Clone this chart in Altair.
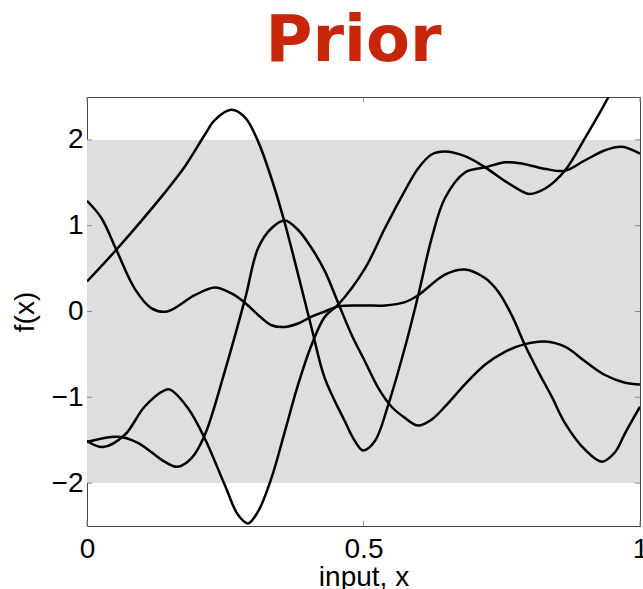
import altair as alt
import pandas as pd

# Four sample functions drawn from the GP prior (x in [0, 1])
a_x = [0.0, 0.053, 0.14, 0.177, 0.213, 0.231, 0.261, 0.286, 0.3095, 0.3336, 0.3577, 0.3818,
       0.406, 0.4301, 0.4663, 0.4844, 0.4995, 0.5206, 0.5446, 0.5749, 0.599, 0.6231, 0.6472,
       0.6834, 0.72, 0.757, 0.79, 0.83, 0.864, 0.90, 0.937, 0.967, 1.0]
a_y = [0.35, 0.72, 1.38, 1.69, 2.06, 2.23, 2.35, 2.26, 1.98, 1.55, 1.03, 0.43,
       -0.19, -0.78, -1.28, -1.51, -1.62, -1.51, -1.09, -0.42, 0.19, 0.85, 1.32,
       1.62, 1.68, 1.74, 1.72, 1.66, 1.64, 1.76, 1.88, 1.92, 1.84]

b_x = [0.0, 0.026, 0.053, 0.086, 0.116, 0.145, 0.1949, 0.231, 0.2613, 0.2859, 0.3095,
       0.3336, 0.3577, 0.3818, 0.406, 0.4301, 0.4542, 0.5025, 0.5387, 0.5749, 0.599, 0.6472,
       0.6834, 0.7196, 0.7437, 0.7678, 0.7919, 0.816, 0.8402, 0.8643, 0.9005, 0.931, 0.9548,
       0.9729, 1.0]
b_y = [1.29, 1.09, 0.72, 0.27, 0.04, 0.0, 0.19, 0.28, 0.21, 0.10, -0.04,
       -0.16, -0.18, -0.14, -0.06, 0.0, 0.06, 0.07, 0.07, 0.11, 0.19, 0.43,
       0.49, 0.39, 0.23, -0.04, -0.39, -0.70, -0.99, -1.30, -1.61, -1.75, -1.64,
       -1.42, -1.11]

c_x = [0.0, 0.029, 0.068, 0.104, 0.14, 0.15, 0.183, 0.213, 0.249, 0.273, 0.291, 0.3095,
       0.3336, 0.3577, 0.3818, 0.406, 0.4301, 0.4542, 0.5025, 0.5387, 0.5749, 0.599, 0.6231,
       0.6472, 0.6834, 0.72, 0.756, 0.79, 0.80, 0.83, 0.864, 0.9005, 0.943, 0.96]
c_y = [-1.51, -1.58, -1.44, -1.11, -0.92, -0.91, -1.13, -1.48, -2.02, -2.37, -2.47, -2.33,
       -1.94, -1.40, -0.85, -0.39, -0.06, 0.08, 0.50, 0.97, 1.41, 1.67, 1.83,
       1.865, 1.81, 1.68, 1.52, 1.39, 1.37, 1.44, 1.64, 2.02, 2.5, 2.72]

d_x = [0.0, 0.056, 0.092, 0.14, 0.164, 0.189, 0.213, 0.249, 0.2859, 0.3095, 0.3336, 0.3577,
       0.3818, 0.406, 0.4301, 0.4542, 0.4784, 0.5025, 0.5266, 0.5508, 0.5749, 0.599, 0.6231,
       0.6472, 0.6834, 0.7196, 0.7558, 0.7919, 0.8281, 0.8643, 0.9005, 0.9367, 0.9729, 1.0]
d_y = [-1.52, -1.46, -1.53, -1.75, -1.81, -1.71, -1.44, -0.70, 0.15, 0.74, 0.97, 1.06,
       0.95, 0.74, 0.47, 0.10, -0.27, -0.58, -0.89, -1.11, -1.24, -1.33, -1.26,
       -1.11, -0.85, -0.62, -0.47, -0.38, -0.35, -0.41, -0.58, -0.74, -0.83, -0.85]

# +/- two standard deviations of the prior
band_lo, band_hi = -2, 2

x_ticks = [0, 0.5, 1]
y_ticks = [-2, -1, 0, 1, 2]

samples = pd.concat([
    pd.DataFrame({"x": xs, "y": ys, "sample": name})
    for name, xs, ys in [("a", a_x, a_y), ("b", b_x, b_y), ("c", c_x, c_y), ("d", d_x, d_y)]
])
band = pd.DataFrame({"x": [0], "x2": [1], "y": [band_lo], "y2": [band_hi]})
xt = pd.DataFrame({"x": x_ticks})
yt = pd.DataFrame({"y": y_ticks})

W, H = 553, 429
TICK = 5

x_scale = alt.Scale(domain=[0, 1], nice=False, zero=False)
y_scale = alt.Scale(domain=[-2.5, 2.5], nice=False, zero=False)

x_axis = alt.Axis(values=x_ticks, format="~g", title="input, x", ticks=False, domain=False,
                  grid=False, labelPadding=9, titlePadding=0, labelFlush=False)
y_axis = alt.Axis(values=y_ticks, format="~g", title="f(x)", ticks=False, domain=False,
                  grid=False, labelPadding=4, titlePadding=12)


def X(field="x"):
    return alt.X(f"{field}:Q", scale=x_scale, axis=x_axis, title="input, x")


def Y(field="y"):
    return alt.Y(f"{field}:Q", scale=y_scale, axis=y_axis, title="f(x)")


band_layer = alt.Chart(band).mark_rect(color="#dedede").encode(
    x=X(), x2="x2:Q", y=Y(), y2="y2:Q"
)

lines = alt.Chart(samples).mark_line(
    color="black", strokeWidth=2.5, interpolate="catmull-rom", clip=True
).encode(x=X(), y=Y(), detail="sample:N")

tick_style = dict(color="#8a8a8a", strokeWidth=1)
x_top = alt.Chart(xt).mark_rule(**tick_style).encode(x=X(), y=alt.value(0), y2=alt.value(TICK))
x_bot = alt.Chart(xt).mark_rule(**tick_style).encode(x=X(), y=alt.value(H), y2=alt.value(H - TICK))
y_left = alt.Chart(yt).mark_rule(**tick_style).encode(y=Y(), x=alt.value(0), x2=alt.value(TICK))
y_right = alt.Chart(yt).mark_rule(**tick_style).encode(y=Y(), x=alt.value(W), x2=alt.value(W - TICK))

chart = alt.layer(band_layer, lines, x_top, x_bot, y_left, y_right).properties(
    width=W,
    height=H,
    background="white",
    autosize=alt.AutoSizeParams(type="none"),
    padding={"left": 87, "top": 97, "right": 3, "bottom": 63},
    title=alt.TitleParams(
        "Prior", font="DejaVu Sans", fontSize=64, fontWeight="bold", color="#c8260a",
        anchor="middle", frame="group", dx=-10, offset=0, dy=28, baseline="alphabetic",
    ),
).configure_view(
    stroke="#444444", strokeWidth=1
).configure_axis(
    labelFont="Liberation Sans", labelFontSize=28, labelColor="black",
    titleFont="Liberation Sans", titleFontSize=28, titleFontWeight="normal", titleColor="black",
)

chart.save("out.html", embed_options={"renderer": "svg", "actions": False})
